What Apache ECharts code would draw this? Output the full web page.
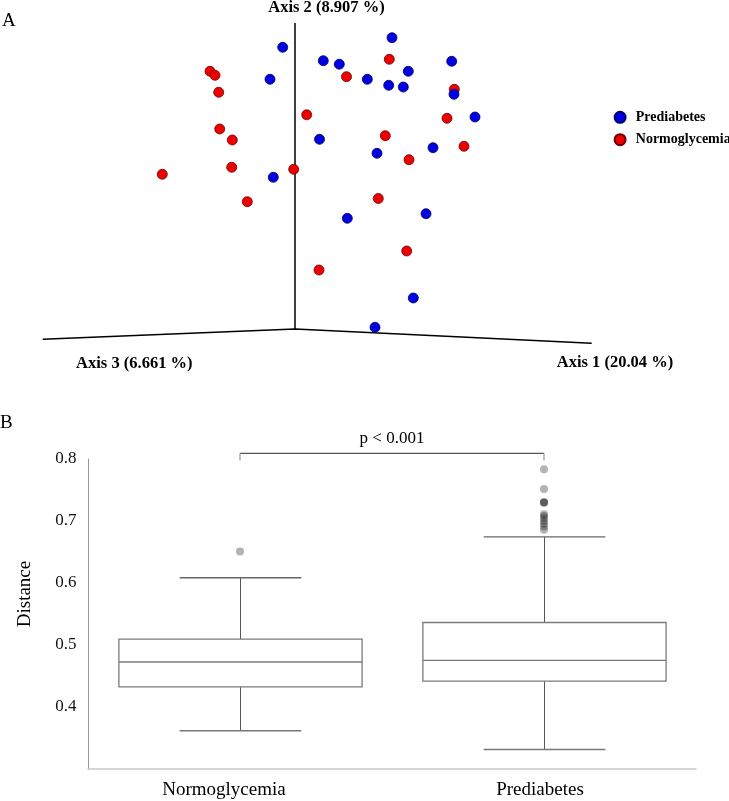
<!DOCTYPE html>
<html>
<head>
<meta charset="utf-8">
<script src="https://cdn.jsdelivr.net/npm/echarts@6/dist/echarts.min.js"></script>
<style>
  html, body { margin: 0; padding: 0; background: #fff; }
  #chart { width: 729px; height: 801px; }
</style>
</head>
<body>
<div id="chart"></div>
<script>
// ---------- Panel A: PCoA projection (projected coordinates, origin at axes crossing) ----------
var prediabetesX = [-12.3, 28.3, 44.3, -25, 24.5, -21.7, 97, 156.7, 113.3, 72.3, 93.7, 108.3, 159, 180, 82, 138, 52.3, 131, 118.3, 80];
var prediabetesY = [281.7, 268.3, 264.8, 249.7, 189.7, 151.7, 291.3, 267.7, 257.7, 249.7, 243.7, 242, 234.7, 212, 175.7, 181.3, 110.7, 115.3, 31, 1.7];
var normoX = [-85, -80, 51.5, -76.3, 11.7, -75.3, -62.7, -63.3, -132.7, -1.3, -47.7, 94.3, 159.3, 152, 90.3, 169, 114, 83.3, 111.7, 24];
var normoY = [257.7, 253.7, 252.3, 236.7, 214.2, 200, 189, 161.7, 154.7, 159.7, 127.3, 269.7, 239.7, 210.7, 193.3, 182.7, 169.3, 130.5, 78, 59];
var axisOrigin = [0, 0];
var axis2End = [0, 306];
var axis3End = [-252.3, -10.3];
var axis1End = [296.7, -14.3];
var axisTitles = ['Axis 1 (20.04 %)', 'Axis 2 (8.907 %)', 'Axis 3 (6.661 %)'];
var groupNames = ['Prediabetes', 'Normoglycemia'];

// ---------- Panel B: distance boxplot ----------
var categories = ['Normoglycemia', 'Prediabetes'];
var boxLow = [0.3618, 0.3313];
var boxQ1 = [0.4324, 0.4416];
var boxMedian = [0.4726, 0.4753];
var boxQ3 = [0.5095, 0.5363];
var boxHigh = [0.6085, 0.6743];
var outliersNormo = [0.6507];
var outliersPred = [0.7835, 0.7518, 0.7305, 0.7300, 0.7295, 0.7110, 0.7080, 0.7045, 0.7000, 0.6955, 0.6910, 0.6860];
var yTicks = [0.4, 0.5, 0.6, 0.7, 0.8];
var pText = 'p < 0.001';
var bracketLine = 0.8091, bracketTickEnd = 0.7974, pTextLevel = 0.8332;

var SERIF = "'Liberation Serif', 'Times New Roman', serif";

function zip(a, b) { return a.map(function (v, i) { return [v, b[i]]; }); }

var chart = echarts.init(document.getElementById('chart'), null, { renderer: 'canvas' });

var boxData = categories.map(function (c, i) {
  return [i, boxLow[i], boxQ1[i], boxMedian[i], boxQ3[i], boxHigh[i]];
});
var outlierData = outliersNormo.map(function (v) { return [0, v]; })
  .concat(outliersPred.map(function (v) { return [1, v]; }));

var option = {
  backgroundColor: '#fff',
  animation: false,
  legend: {
    data: groupNames,
    orient: 'vertical',
    left: 608.6,
    top: 105.3,
    itemWidth: 21.4,
    itemHeight: 11,
    itemGap: 8.4,
    icon: 'circle',
    selectedMode: false,
    textStyle: { fontFamily: SERIF, fontWeight: 'bold', fontSize: 14, lineHeight: 14, color: '#000' }
  },
  grid: [
    { left: 0, top: 0, width: 729, height: 400 },
    { left: 88, right: 33, top: 459, bottom: 32 }
  ],
  xAxis: [
    { gridIndex: 0, type: 'value', min: -295, max: 434, show: false },
    {
      gridIndex: 1, type: 'category', data: categories, boundaryGap: true,
      axisLine: { lineStyle: { color: '#c8c8c8', width: 1.5 } },
      axisTick: { show: false },
      axisLabel: {
        margin: 12, color: '#000', fontFamily: SERIF, fontSize: 19,
        formatter: function (v, i) { return i === 0 ? '{a|' + v + '}' : '{b|' + v + '}'; },
        rich: {
          a: { fontFamily: SERIF, fontSize: 19, color: '#000', padding: [0, 32, 0, 0] },
          b: { fontFamily: SERIF, fontSize: 19, color: '#000', padding: [0, 8, 0, 0] }
        }
      },
      splitLine: { show: false }
    }
  ],
  yAxis: [
    { gridIndex: 0, type: 'value', min: -71, max: 329, show: false },
    {
      gridIndex: 1, type: 'value', min: 0.3, max: 0.8, interval: 0.1,
      name: 'Distance', nameLocation: 'middle', nameRotate: 90, nameGap: 53,
      nameTextStyle: { fontFamily: SERIF, fontSize: 19, color: '#000', padding: [0, 0, 0, 40] },
      axisLine: { show: true, lineStyle: { color: '#999', width: 1 } },
      axisTick: { show: false },
      splitLine: { show: false },
      axisLabel: {
        margin: 11.5, color: '#111', fontFamily: SERIF, fontSize: 17,
        formatter: function (v) {
          for (var k = 0; k < yTicks.length; k++) { if (Math.abs(v - yTicks[k]) < 1e-6) return yTicks[k].toFixed(1); }
          return '';
        }
      }
    }
  ],
  series: [
    {
      type: 'line', name: 'axesA1', xAxisIndex: 0, yAxisIndex: 0, silent: true,
      data: [axis3End, axisOrigin, axis1End], symbol: 'none',
      lineStyle: { color: '#000', width: 1.5 }, z: 1
    },
    {
      type: 'line', name: 'axesA2', xAxisIndex: 0, yAxisIndex: 0, silent: true,
      data: [axisOrigin, axis2End], symbol: 'none',
      lineStyle: { color: '#000', width: 1.5 }, z: 1
    },
    {
      type: 'scatter', name: 'Normoglycemia', xAxisIndex: 0, yAxisIndex: 0,
      data: zip(normoX, normoY), symbol: 'circle', symbolSize: 10,
      itemStyle: { color: '#ee0000', borderColor: '#6a0000', borderWidth: 0.8, opacity: 1 }, z: 2
    },
    {
      type: 'scatter', name: 'Prediabetes', xAxisIndex: 0, yAxisIndex: 0,
      data: zip(prediabetesX, prediabetesY), symbol: 'circle', symbolSize: 10,
      itemStyle: { color: '#0000e0', borderColor: '#00006a', borderWidth: 0.8, opacity: 1 }, z: 3
    },
    {
      type: 'custom', name: 'box', xAxisIndex: 1, yAxisIndex: 1, clip: false,
      dimensions: ['cat', 'low', 'q1', 'median', 'q3', 'high'],
      encode: { x: 0, y: [1, 2, 3, 4, 5] },
      data: boxData,
      renderItem: function (params, api) {
        var c = api.value(0);
        var lo = api.coord([c, api.value(1)]);
        var q1 = api.coord([c, api.value(2)]);
        var md = api.coord([c, api.value(3)]);
        var q3 = api.coord([c, api.value(4)]);
        var hi = api.coord([c, api.value(5)]);
        var bw = api.size([1, 0])[0];
        var half = bw * 0.4, cap = bw * 0.2;
        var x = Math.round(lo[0]) + 0.5;
        var wl = { stroke: '#555', lineWidth: 1 };
        var bl = { stroke: '#7a7a7a', lineWidth: 1.3 };
        return {
          type: 'group', children: [
            { type: 'line', shape: { x1: x, y1: hi[1], x2: x, y2: q3[1] }, style: wl },
            { type: 'line', shape: { x1: x, y1: q1[1], x2: x, y2: lo[1] }, style: wl },
            { type: 'line', shape: { x1: x - cap, y1: hi[1], x2: x + cap, y2: hi[1] }, style: { stroke: '#666', lineWidth: 1.3 } },
            { type: 'line', shape: { x1: x - cap, y1: lo[1], x2: x + cap, y2: lo[1] }, style: { stroke: '#777', lineWidth: 1.5 } },
            { type: 'rect', shape: { x: x - half, y: q3[1], width: 2 * half, height: q1[1] - q3[1] }, style: { fill: '#fff', stroke: '#7a7a7a', lineWidth: 1.3 } },
            { type: 'line', shape: { x1: x - half, y1: md[1], x2: x + half, y2: md[1] }, style: bl }
          ]
        };
      },
      z: 2
    },
    {
      type: 'scatter', name: 'outliers', xAxisIndex: 1, yAxisIndex: 1,
      data: outlierData, symbol: 'circle', symbolSize: 8,
      itemStyle: { color: 'rgba(20,20,20,0.4)' }, z: 3
    },
    {
      type: 'custom', name: 'bracket', xAxisIndex: 1, yAxisIndex: 1, clip: false,
      data: [[0, 1, bracketLine, bracketTickEnd, pTextLevel]],
      renderItem: function (params, api) {
        var a = api.coord([api.value(0), api.value(2)]);
        var b = api.coord([api.value(1), api.value(2)]);
        var aEnd = api.coord([api.value(0), api.value(3)]);
        var bEnd = api.coord([api.value(1), api.value(3)]);
        var t = api.coord([api.value(0), api.value(4)]);
        return {
          type: 'group', children: [
            { type: 'line', shape: { x1: a[0], y1: a[1], x2: b[0], y2: b[1] }, style: { stroke: '#555', lineWidth: 1.2 } },
            { type: 'line', shape: { x1: a[0], y1: a[1], x2: aEnd[0], y2: aEnd[1] }, style: { stroke: '#999', lineWidth: 1.2 } },
            { type: 'line', shape: { x1: b[0], y1: b[1], x2: bEnd[0], y2: bEnd[1] }, style: { stroke: '#999', lineWidth: 1.2 } },
            { type: 'text', x: (a[0] + b[0]) / 2, y: t[1], style: { text: pText, fontFamily: SERIF, fontSize: 17, fill: '#000', align: 'center', verticalAlign: 'middle' } }
          ]
        };
      },
      z: 4
    }
  ],
  graphic: [
    { type: 'text', left: 2, top: 12, style: { text: 'A', fontFamily: SERIF, fontSize: 19, fill: '#000' } },
    { type: 'text', left: 0, top: 414, style: { text: 'B', fontFamily: SERIF, fontSize: 19, fill: '#000' } },
    { type: 'text', x: 326.5, y: 7.5, style: { text: axisTitles[1], fontFamily: SERIF, fontWeight: 'bold', fontSize: 16.5, fill: '#000', align: 'center', verticalAlign: 'middle' } },
    { type: 'text', x: 134.3, y: 364, style: { text: axisTitles[2], fontFamily: SERIF, fontWeight: 'bold', fontSize: 16.5, fill: '#000', align: 'center', verticalAlign: 'middle' } },
    { type: 'text', x: 615, y: 363, style: { text: axisTitles[0], fontFamily: SERIF, fontWeight: 'bold', fontSize: 16.5, fill: '#000', align: 'center', verticalAlign: 'middle' } }
  ]
};
chart.setOption(option);
</script>
</body>
</html>
